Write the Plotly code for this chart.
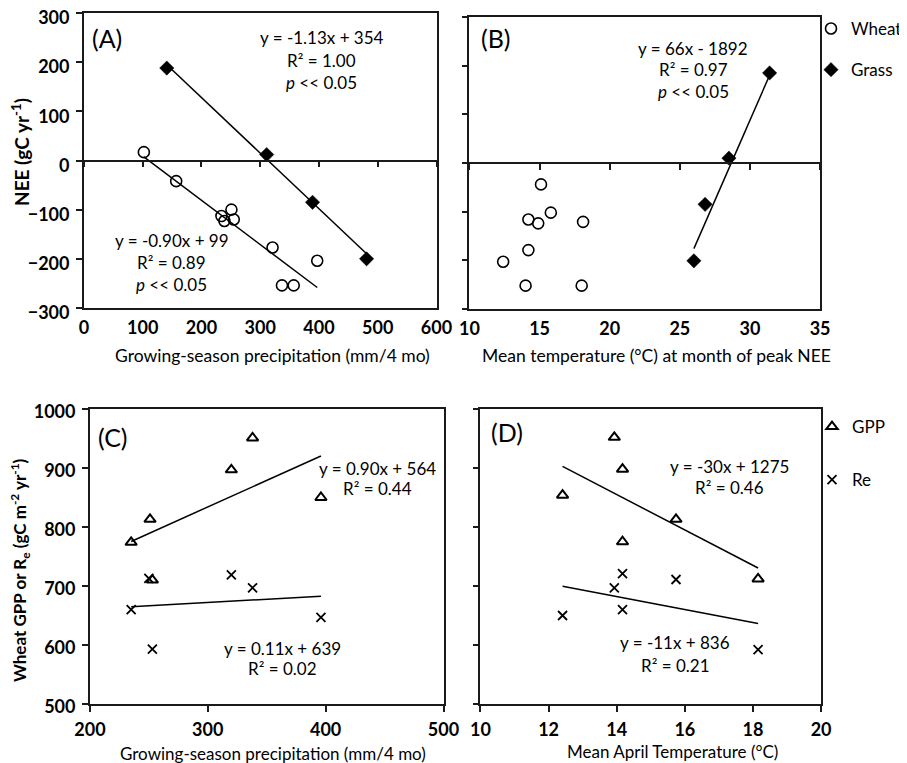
import plotly.graph_objects as go

# page body has an 8px margin, so the figure is drawn 8px in from the top-left
OFF = 8
W, H = 907, 763
FW, FH = W - OFF, H - OFF
FONT = "Lato"

# ---------------- data ----------------
# Panel A: NEE vs growing-season precipitation
wheat_precip = [102, 157, 234, 239, 251, 255, 321, 337, 357, 397]
wheat_nee_a = [17, -42, -113, -123, -100, -120, -177, -254, -254, -204]
grass_precip = [141, 311, 389, 481]
grass_nee_a = [188, 12, -85, -200]

# Panel B: NEE vs mean temperature at month of peak NEE
wheat_temp = [15.1, 15.8, 14.2, 14.9, 18.1, 14.2, 12.4, 14.0, 18.0]
wheat_nee_b = [-44, -102, -116, -124, -121, -179, -203, -252, -252]
grass_temp = [26.0, 26.8, 28.5, 31.4]
grass_nee_b = [-201, -85, 10, 185]

# Panel C: wheat GPP / Re vs growing-season precipitation
c_precip_gpp = [235, 251, 253, 320, 338, 396]
c_gpp = [774, 813, 710, 897, 951, 850]
c_precip_re = [235, 250, 253, 320, 338, 396]
c_re = [660, 713, 593, 719, 697, 647]

# Panel D: wheat GPP / Re vs mean April temperature
d_temp_gpp = [14.17, 15.74, 18.15, 14.17, 13.93, 12.41]
d_gpp = [775, 813, 712, 898, 952, 854]
d_temp_re = [14.17, 15.74, 18.15, 14.17, 13.93, 12.41]
d_re = [660, 711, 592, 721, 697, 650]

# regression coefficients shown on the chart (slope, intercept)
fit_a_grass = (-1.13, 354)
fit_a_wheat = (-0.90, 99)
fit_b_grass = (66, -1892)
fit_c_gpp = (0.90, 564)
fit_c_re = (0.11, 639)
fit_d_gpp = (-30, 1275)
fit_d_re = (-11, 836)

# ---------------- layout helpers ----------------
def fx(px):
    return (px - OFF) / FW

def fy(py):
    return 1 - (py - OFF) / FH

def px_dom_x(a, b):
    return [fx(a), fx(b)]

def px_dom_y(top, bottom):
    return [fy(bottom), fy(top)]

dom = {
    "A": (px_dom_x(84, 437), px_dom_y(13, 308)),
    "B": (px_dom_x(470, 821), px_dom_y(17, 309)),
    "C": (px_dom_x(90, 444), px_dom_y(409, 704)),
    "D": (px_dom_x(481, 822), px_dom_y(409, 704)),
}

fig = go.Figure()

def fit_line(xs, coef, xa, ya):
    x0, x1 = min(xs), max(xs)
    xx = [x0, x1]
    yy = [coef[0] * v + coef[1] for v in xx]
    fig.add_trace(go.Scatter(x=xx, y=yy, mode="lines", xaxis=xa, yaxis=ya,
                             line=dict(color="black", width=1.5),
                             showlegend=False, hoverinfo="skip"))

circle = dict(symbol="circle-open", size=11, color="black", line=dict(width=1.6, color="black"))
diamond = dict(symbol="diamond", size=11, color="black", line=dict(width=0.5, color="black"))
tri = dict(symbol="triangle-up-open", size=10, color="black", line=dict(width=2, color="black"))
cross = dict(symbol="x-thin-open", size=9, color="black", line=dict(width=1.8, color="black"))

# Panel A
fit_line(grass_precip, fit_a_grass, "x", "y")
fit_line(wheat_precip, fit_a_wheat, "x", "y")
fig.add_trace(go.Scatter(x=wheat_precip, y=wheat_nee_a, mode="markers", marker=circle,
                         name="Wheat", legendgroup="w", legend="legend", xaxis="x", yaxis="y"))
fig.add_trace(go.Scatter(x=grass_precip, y=grass_nee_a, mode="markers", marker=diamond,
                         name="Grass", legendgroup="g", legend="legend", xaxis="x", yaxis="y"))
# Panel B
fit_line(grass_temp, fit_b_grass, "x2", "y2")
fig.add_trace(go.Scatter(x=wheat_temp, y=wheat_nee_b, mode="markers", marker=circle,
                         showlegend=False, xaxis="x2", yaxis="y2"))
fig.add_trace(go.Scatter(x=grass_temp, y=grass_nee_b, mode="markers", marker=diamond,
                         showlegend=False, xaxis="x2", yaxis="y2"))
# Panel C
fit_line(c_precip_gpp, fit_c_gpp, "x3", "y3")
fit_line(c_precip_re, fit_c_re, "x3", "y3")
fig.add_trace(go.Scatter(x=c_precip_gpp, y=c_gpp, mode="markers", marker=tri,
                         name="GPP", legendgroup="gpp", legend="legend2", xaxis="x3", yaxis="y3"))
fig.add_trace(go.Scatter(x=c_precip_re, y=c_re, mode="markers", marker=cross,
                         name="Re", legendgroup="re", legend="legend2", xaxis="x3", yaxis="y3"))
# Panel D
fit_line(d_temp_gpp, fit_d_gpp, "x4", "y4")
fit_line(d_temp_re, fit_d_re, "x4", "y4")
fig.add_trace(go.Scatter(x=d_temp_gpp, y=d_gpp, mode="markers", marker=tri,
                         showlegend=False, xaxis="x4", yaxis="y4"))
fig.add_trace(go.Scatter(x=d_temp_re, y=d_re, mode="markers", marker=cross,
                         showlegend=False, xaxis="x4", yaxis="y4"))

tickfont = dict(family=FONT, size=18, color="black", weight="bold")
LC = "#1a1a1a"

def xaxis(domain, rng, dtick, anchor, ticks="outside", labels=True):
    return dict(domain=domain, range=rng, dtick=dtick, tick0=rng[0], anchor=anchor,
                showline=True, mirror=True, linecolor=LC, linewidth=1.6,
                ticks=ticks, ticklen=6, tickwidth=1.5, tickcolor=LC,
                showgrid=False, zeroline=False, showticklabels=labels,
                tickfont=tickfont, ticklabelstandoff=3, fixedrange=True,
                automargin=False, ticklabeloverflow="allow")

def yaxis(domain, rng, dtick, anchor, labels=True, shift=3):
    return dict(domain=domain, range=rng, dtick=dtick, tick0=rng[0], anchor=anchor,
                showline=True, mirror=True, linecolor=LC, linewidth=1.6,
                ticks="outside", ticklen=6, tickwidth=1.5, tickcolor=LC,
                showgrid=False, zeroline=False, showticklabels=labels,
                tickfont=tickfont, ticklabelstandoff=3, ticklabelshift=shift,
                fixedrange=True, automargin=False, ticklabeloverflow="allow")

lay = {}
lay["xaxis"] = xaxis(dom["A"][0], [0, 600], 100, "y", ticks="")
lay["yaxis"] = yaxis(dom["A"][1], [-300, 300], 100, "x", shift=5)
lay["xaxis2"] = xaxis(dom["B"][0], [10, 35], 5, "y2", ticks="")
lay["yaxis2"] = yaxis(dom["B"][1], [-300, 300], 100, "x2", labels=False)
lay["xaxis3"] = xaxis(dom["C"][0], [200, 500], 100, "y3")
lay["yaxis3"] = yaxis(dom["C"][1], [500, 1000], 100, "x3")
lay["xaxis4"] = xaxis(dom["D"][0], [10, 20], 2, "y4")
lay["yaxis4"] = yaxis(dom["D"][1], [500, 1000], 100, "x4", labels=False)

# zero-crossing axes with ticks for panels A and B
for name, over, d, rng, dt in [("xaxis5", "x", dom["A"], [0, 600], 100),
                               ("xaxis6", "x2", dom["B"], [10, 35], 5)]:
    lay[name] = dict(domain=d[0], range=rng, dtick=dt, tick0=rng[0], overlaying=over,
                     matches=over, anchor="free", position=(d[1][0] + d[1][1]) / 2,
                     showline=True, linecolor=LC, linewidth=1.5, ticks="outside",
                     ticklen=6, tickwidth=1.5, tickcolor=LC, showticklabels=False,
                     showgrid=False, zeroline=False, fixedrange=True, automargin=False)

fig.update_layout(**lay)

# dummy traces so the zero axes render
fig.add_trace(go.Scatter(x=[None], y=[None], xaxis="x5", yaxis="y", showlegend=False, hoverinfo="skip"))
fig.add_trace(go.Scatter(x=[None], y=[None], xaxis="x6", yaxis="y2", showlegend=False, hoverinfo="skip"))

ann = []
def T(x, y, text, size=17, xanchor="center", angle=0, weight="normal"):
    ann.append(dict(x=fx(x), y=fy(y), xref="paper", yref="paper", text=text,
                    showarrow=False, xanchor=xanchor, yanchor="middle", textangle=angle,
                    font=dict(family=FONT, size=size, color="black", weight=weight)))

# panel labels
T(90, 38, "(A)", size=25, xanchor="left")
T(480, 38, "(B)", size=25, xanchor="left")
T(96, 437, "(C)", size=25, xanchor="left")
T(490, 432, "(D)", size=25, xanchor="left")

# equations
T(322, 38, "y = -1.13x + 354")
T(322, 60, "R² = 1.00")
T(322, 82, "<i>p</i> &lt;&lt; 0.05")
T(172, 240, "y = -0.90x + 99")
T(172, 262, "R² = 0.89")
T(172, 284, "<i>p</i> &lt;&lt; 0.05")
T(694, 48, "y = 66x - 1892")
T(694, 70, "R² = 0.97")
T(694, 92, "<i>p</i> &lt;&lt; 0.05")
T(378, 468, "y = 0.90x + 564")
T(378, 488, "R² = 0.44")
T(283, 648, "y = 0.11x + 639")
T(283, 668, "R² = 0.02")
T(730, 466, "y = -30x + 1275")
T(730, 487, "R² = 0.46")
T(676, 642, "y = -11x + 836")
T(676, 665, "R² = 0.21")

# axis titles
T(273, 355, "Growing-season precipitation (mm/4 mo)", size=17.5)
T(657, 355, "Mean temperature (°C) at month of peak NEE", size=17.5)
T(273, 753, "Growing-season precipitation (mm/4 mo)", size=17)
T(673, 751, "Mean April Temperature (°C)", size=17)
T(20, 152, "NEE (gC yr<sup>-1</sup>)", size=19, angle=-90, weight="bold")
T(20, 570, "Wheat GPP or R<sub>e</sub> (gC m<sup>-2</sup> yr<sup>-1</sup>)", size=17, angle=-90, weight="bold")

fig.update_layout(
    annotations=ann,
    width=FW, height=FH,
    margin=dict(l=0, r=0, t=0, b=0),
    paper_bgcolor="white", plot_bgcolor="white",
    font=dict(family=FONT, size=16, color="black"),
    legend=dict(x=fx(812), y=fy(11), xanchor="left", yanchor="top",
                tracegroupgap=16, font=dict(family=FONT, size=17, color="black"),
                itemwidth=30, bgcolor="rgba(0,0,0,0)"),
    legend2=dict(x=fx(812), y=fy(409), xanchor="left", yanchor="top",
                 tracegroupgap=28, font=dict(family=FONT, size=17, color="black"),
                 itemwidth=30, bgcolor="rgba(0,0,0,0)"),
)

fig.write_html("out.html")
